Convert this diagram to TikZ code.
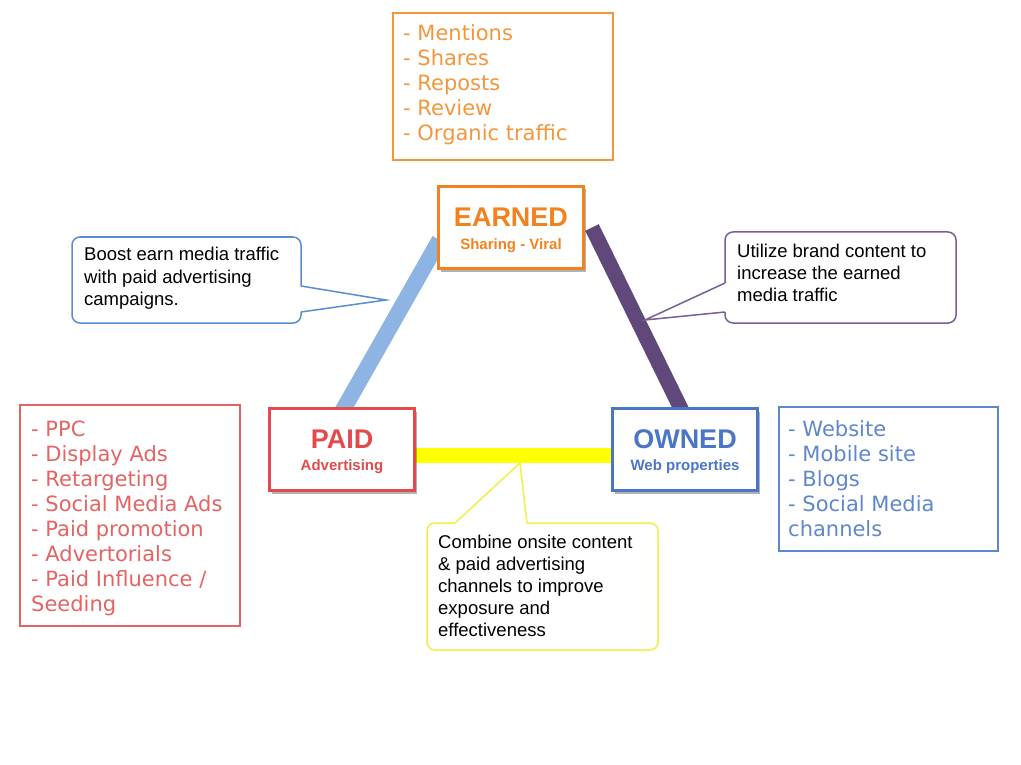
\documentclass[tikz,border=0pt]{standalone}
\usepackage{fontspec}
\setmainfont{Liberation Sans}
\newfontfamily\listfont{DejaVu Sans}
\usetikzlibrary{shadows,calc,backgrounds}
\definecolor{orangeM}{RGB}{242,130,30}
\definecolor{orangeL}{RGB}{244,150,60}
\definecolor{redM}{RGB}{226,75,75}
\definecolor{redL}{RGB}{228,100,100}
\definecolor{blueM}{RGB}{75,118,200}
\definecolor{blueL}{RGB}{95,135,205}
\definecolor{lineBlue}{RGB}{141,180,226}
\definecolor{linePurple}{RGB}{96,73,122}
\definecolor{lineYellow}{RGB}{255,255,0}
\definecolor{callBlue}{RGB}{90,140,210}
\definecolor{callPurple}{RGB}{120,95,150}
\definecolor{callYellow}{RGB}{240,240,70}
\begin{document}
\begin{tikzpicture}[x=1pt,y=-1pt,
  mainbox/.style={draw, line width=3pt, fill=white, minimum width=145pt, minimum height=82pt, inner sep=0pt,
    drop shadow={shadow xshift=2pt, shadow yshift=-3pt, opacity=0.3, fill=black}},
  maintitle/.style={anchor=base, font=\bfseries\fontsize{27}{30}\selectfont, inner sep=0pt},
  mainsub/.style={anchor=base, font=\bfseries\fontsize{15}{18}\selectfont, inner sep=0pt},
  listbox/.style={draw, line width=1.2pt, inner sep=0pt},
  listtext/.style={anchor=base west, align=left, inner sep=0pt, font=\listfont\fontsize{21}{25}\selectfont},
  callbox/.style={draw, line width=1.5pt, fill=white, rounded corners=8pt, inner sep=0pt, outer sep=0pt},
  calltext/.style={anchor=base west, align=left, inner sep=0pt, font=\fontsize{18.5}{22}\selectfont},
  thickline/.style={line width=16pt}]
\useasboundingbox (0,0) rectangle (1021,765);

% main boxes
\node[mainbox, draw=orangeM] (earned) at (511,227.5) {};
\node[mainbox, draw=redM] (paid) at (342,449.5) {};
\node[mainbox, draw=blueM] (owned) at (685,449.5) {};
\node[maintitle, text=orangeM] (earnedT) at ($(earned.center)+(0,-1.5)$) {EARNED};
\node[mainsub, text=orangeM] (earnedS) at ($(earned.center)+(0,21.5)$) {Sharing - Viral};
\node[maintitle, text=redM] (paidT) at ($(paid.center)+(0,-1.5)$) {PAID};
\node[mainsub, text=redM] (paidS) at ($(paid.center)+(0,20.5)$) {Advertising};
\node[maintitle, text=blueM] (ownedT) at ($(owned.center)+(0,-1.5)$) {OWNED};
\node[mainsub, text=blueM] (ownedS) at ($(owned.center)+(0,20.5)$) {Web properties};

% connectors behind the boxes
\begin{pgfonlayer}{background}
\fill[white] (0,0) rectangle (1021,765);
\draw[thickline, lineBlue] ($(paid.north)+(-3,10)$) -- ($(earned.south west)+(2.5,-30)$);
\draw[thickline, linePurple, line width=15pt] ($(owned.north)+(0,10)$) -- ($(earned.east)+(7,0)$);
\draw[thickline, lineYellow, line width=15pt] ($(paid.east)+(-5,6)$) -- ($(owned.west)+(5,6)$);
\end{pgfonlayer}

% lists (node base = baseline of the last line)
\node[listbox, draw=orangeL, minimum width=220pt, minimum height=147pt] (elist) at (503,86.5) {};
\node[listtext, text=orangeL] (elistT) at (403,141) {- Mentions\\- Shares\\- Reposts\\- Review\\- Organic traffic};
\node[listbox, draw=redL, minimum width=220pt, minimum height=221pt] (plist) at (130,515.5) {};
\node[listtext, text=redL] (plistT) at (31,611) {- PPC\\- Display Ads\\- Retargeting\\- Social Media Ads\\- Paid promotion\\- Advertorials\\- Paid Influence /\\Seeding};
\node[listbox, draw=blueL, minimum width=219pt, minimum height=144pt] (olist) at (888.5,479) {};
\node[listtext, text=blueL] (olistT) at (788,536) {- Website\\- Mobile site\\- Blogs\\- Social Media\\channels};

% callout 1
\node[callbox, draw=callBlue, minimum width=229pt, minimum height=86pt] (c1) at (186.5,280) {};
\coordinate (c1a) at ($(c1.north east)+(0,49)$);
\coordinate (c1b) at ($(c1.north east)+(0,75)$);
\coordinate (tip1) at (386,300);
\fill[white] ($(c1a)+(-3,0)$) -- (c1a) -- (tip1) -- (c1b) -- ($(c1b)+(-3,0)$) -- cycle;
\draw[callBlue, line width=1.5pt] (c1a) -- (tip1) -- (c1b);
\node[calltext] (c1T) at (84,305) {Boost earn media traffic\\with paid advertising\\campaigns.};

% callout 2
\node[callbox, draw=callPurple, minimum width=231pt, minimum height=91pt] (c2) at (840.5,277.5) {};
\coordinate (c2a) at ($(c2.north west)+(0,51)$);
\coordinate (c2b) at ($(c2.north west)+(0,80)$);
\coordinate (tip2) at (645,320);
\fill[white] ($(c2a)+(3,0)$) -- (c2a) -- (tip2) -- (c2b) -- ($(c2b)+(3,0)$) -- cycle;
\draw[callPurple, line width=1.5pt] (c2a) -- (tip2) -- (c2b);
\node[calltext] (c2T) at (737,301) {Utilize brand content to\\increase the earned\\media traffic};

% callout 3
\node[callbox, draw=callYellow, minimum width=231pt, minimum height=127pt] (c3) at (542.5,586.5) {};
\coordinate (c3a) at ($(c3.north west)+(28,0)$);
\coordinate (c3b) at ($(c3.north west)+(100,0)$);
\coordinate (tip3) at (520,463);
\fill[white] ($(c3a)+(0,3)$) -- (c3a) -- (tip3) -- (c3b) -- ($(c3b)+(0,3)$) -- cycle;
\draw[callYellow, line width=1.5pt] (c3a) -- (tip3) -- (c3b);
\node[calltext] (c3T) at (438,636) {Combine onsite content\\\& paid advertising\\channels to improve\\exposure and\\effectiveness};
\end{tikzpicture}
\end{document}
